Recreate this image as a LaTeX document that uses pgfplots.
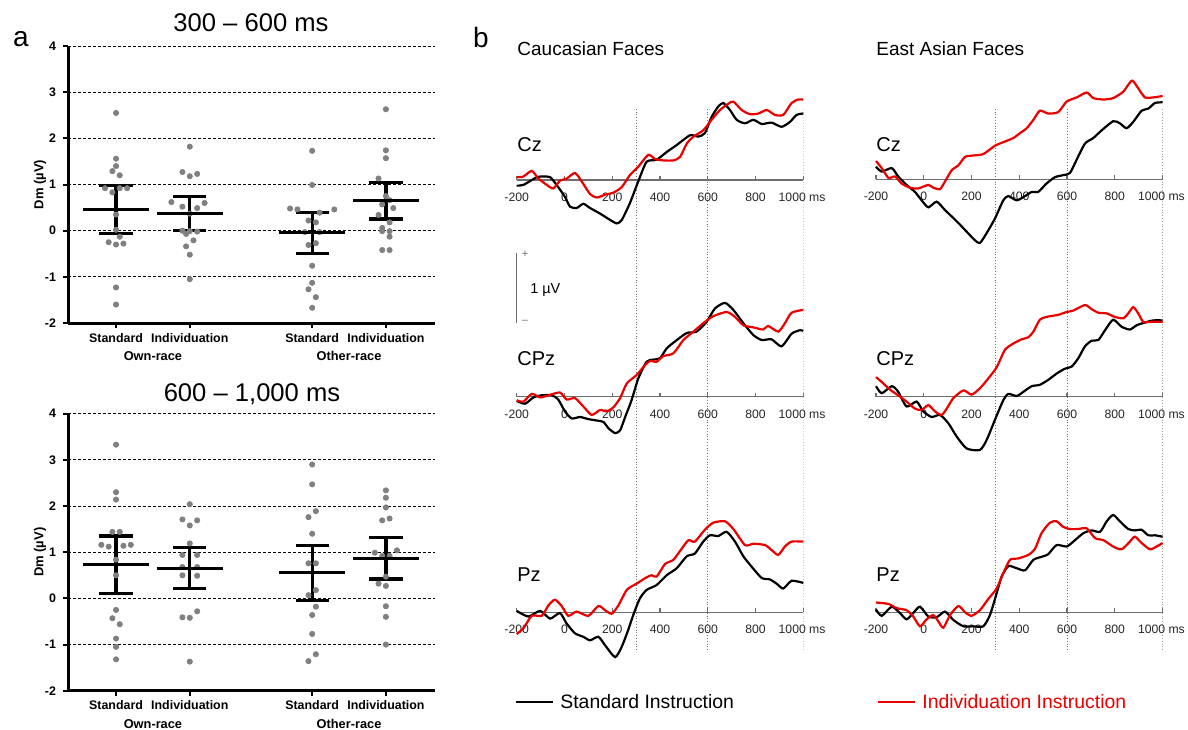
\documentclass[border=0pt]{standalone}
\usepackage{pgfplots}
\pgfplotsset{compat=1.18}
\usepackage{fontspec}
\setmainfont{Liberation Sans}

\definecolor{erpred}{RGB}{235,0,0}
\definecolor{dotgray}{RGB}{128,128,128}
\definecolor{axgray}{RGB}{110,110,110}

\pgfplotsset{
  dm/.style={
    scale only axis, width=183.5pt, height=138.5pt, anchor=south west,
    xmin=0.348, xmax=5.326, ymin=-2, ymax=4,
    axis x line*=bottom, axis y line*=left,
    axis line style={line width=1.5pt},
    xtick={1,2,3.66,4.66},
    xticklabels={Standard,Individuation,Standard,Individuation},
    ytick={-2,-1,0,1,2,3,4},
    tick align=outside, major tick length=2.5pt,
    tick style={line width=1pt,black},
    /pgf/number format/assume math mode=true,
    ticklabel style={font=\fontsize{6.2}{7}\selectfont\bfseries},
    xticklabel style={yshift=1pt},
    ylabel={Dm (µV)},
    ylabel style={font=\fontsize{6.5}{7}\selectfont\bfseries,
      at={(axis description cs:-0.076,0.5)}, anchor=center},
    ymajorgrids, grid style={black, line width=0.5pt, dash pattern=on 1.5pt off 1pt},
    clip=false,
  },
  dots/.style={only marks, mark=*, mark size=1.3pt, color=dotgray,
    mark options={draw=none, fill=dotgray}},
  sem/.style={only marks, black, mark=-, mark size=16.4pt,
    mark options={line width=1.6pt},
    error bars/.cd, y dir=both, y explicit, error mark=|,
    error bar style={line width=1.6pt},
    error mark options={line width=1.6pt, mark size=8.3pt}},
  erp/.style={
    scale only axis, width=143.3pt, height=87.5pt, anchor=south west,
    xmin=-200, xmax=1000, ymin=-1, ymax=1.5,
    axis x line*=middle, axis y line=none, ytick=\empty,
    x axis line style={axgray, line width=0.6pt},
    xtick={-200,0,200,400,600,800,1000},
    xticklabels={-200,0,200,400,600,800,{\makebox[0pt][l]{\hskip-12.3pt 1000 ms}}},
    tick align=inside, major tick length=2pt,
    tick style={axgray, line width=0.6pt},
    xticklabel style={font=\fontsize{6.1}{7}\selectfont, text=black!85, yshift=-3pt},
    clip=false,
  },
  vlines/.style={
    scale only axis, width=143.3pt, height=271pt, anchor=south west,
    xmin=-200, xmax=1000, ymin=0, ymax=1, axis lines=none,
  },
  std/.style={black, line width=1.1pt, smooth, tension=0.4},
  ind/.style={erpred, line width=1.1pt, smooth, tension=0.4},
}

\begin{document}
\begin{tikzpicture}
\useasboundingbox (0,0) rectangle (594pt,-364.5pt);

% dotted time markers, one overlay per column
\begin{axis}[vlines, at={(258.35pt,-325pt)}]
\addplot[ycomb, axgray, line width=0.4pt, densely dotted] coordinates {(300,1) (600,1) (1000,1)};
\end{axis}
\begin{axis}[vlines, at={(438pt,-325pt)}]
\addplot[ycomb, axgray, line width=0.4pt, densely dotted] coordinates {(300,1) (600,1) (1000,1)};
\end{axis}

% ---- Cz, Caucasian
\begin{axis}[erp, at={(258.35pt,-125pt)}]
\addplot[std] coordinates {(-200,-0.08)(-172,-0.07)(-116,0.04)(-88,0.05)(-60,0.04)(-33,-0.07)(2,-0.24)(23,-0.38)(51,-0.40)(79,-0.34)(107,-0.40)(149,-0.48)(191,-0.57)(219,-0.62)(240,-0.57)(274,-0.33)(309,-0.02)(344,0.26)(386,0.29)(428,0.40)(470,0.50)(526,0.64)(560,0.62)(588,0.67)(616,0.90)(644,1.05)(665,1.10)(693,1.00)(721,0.86)(756,0.81)(791,0.86)(826,0.80)(867,0.82)(909,0.76)(944,0.83)(972,0.93)(1000,0.95)};
\addplot[ind] coordinates {(-200,0.04)(-172,0.05)(-137,0.13)(-109,0.02)(-74,-0.07)(-47,-0.12)(-19,-0.01)(9,0.02)(44,0.10)(72,-0.02)(107,-0.20)(135,-0.25)(170,-0.21)(205,-0.18)(240,-0.10)(274,0.07)(309,0.19)(351,0.36)(379,0.30)(414,0.28)(456,0.28)(484,0.33)(512,0.52)(540,0.62)(581,0.71)(616,0.86)(651,1.00)(686,1.09)(707,1.12)(742,1.00)(777,0.94)(812,0.95)(847,1.00)(881,0.93)(916,0.93)(951,1.10)(979,1.15)(1000,1.15)};
\end{axis}

% ---- Cz, East Asian
\begin{axis}[erp, at={(438pt,-124.65pt)}]
\addplot[std] coordinates {(-200,0.18)(-176,0.11)(-134,0.16)(-107,0.04)(-72,-0.08)(-37,-0.18)(-9,-0.30)(19,-0.40)(54,-0.32)(89,-0.44)(138,-0.60)(180,-0.75)(214,-0.87)(235,-0.91)(263,-0.77)(298,-0.56)(333,-0.30)(354,-0.24)(389,-0.30)(424,-0.24)(452,-0.18)(479,-0.18)(514,-0.06)(549,0.03)(584,0.06)(612,0.09)(640,0.28)(675,0.51)(710,0.59)(745,0.70)(793,0.83)(821,0.80)(849,0.73)(877,0.82)(912,0.98)(940,1.01)(968,1.09)(1000,1.10)};
\addplot[ind] coordinates {(-200,0.26)(-176,0.16)(-148,0.02)(-120,0.04)(-93,-0.06)(-58,-0.12)(-23,-0.13)(19,-0.08)(40,-0.12)(68,-0.14)(89,-0.03)(117,0.13)(145,0.20)(173,0.32)(207,0.34)(249,0.36)(298,0.48)(333,0.53)(375,0.59)(403,0.66)(431,0.73)(459,0.85)(486,0.98)(521,0.94)(563,0.96)(598,1.11)(640,1.17)(682,1.24)(710,1.16)(752,1.14)(793,1.16)(835,1.25)(856,1.35)(874,1.41)(898,1.30)(926,1.17)(961,1.17)(1000,1.19)};
\end{axis}

% ---- CPz, Caucasian
\begin{axis}[erp, at={(258.35pt,-233.35pt)}]
\addplot[std] coordinates {(-200,-0.06)(-165,-0.10)(-130,-0.01)(-95,0.02)(-53,0.02)(-26,-0.04)(2,-0.21)(30,-0.31)(65,-0.29)(100,-0.32)(135,-0.34)(163,-0.36)(184,-0.45)(212,-0.52)(233,-0.48)(254,-0.29)(281,-0.05)(309,0.26)(344,0.50)(372,0.53)(400,0.55)(428,0.69)(463,0.79)(512,0.91)(553,0.93)(595,1.07)(630,1.26)(672,1.34)(707,1.24)(749,1.05)(791,0.88)(826,0.81)(867,0.82)(909,0.72)(951,0.90)(986,0.95)(1000,0.94)};
\addplot[ind] coordinates {(-200,-0.05)(-172,-0.07)(-137,0.04)(-102,-0.01)(-67,0.02)(-19,0.06)(9,-0.04)(44,-0.02)(79,-0.14)(114,-0.26)(149,-0.19)(177,-0.21)(205,-0.15)(233,-0.02)(261,0.19)(302,0.31)(337,0.45)(358,0.51)(386,0.50)(414,0.58)(456,0.62)(498,0.81)(540,0.93)(581,1.05)(623,1.15)(679,1.21)(714,1.14)(749,1.02)(791,0.99)(832,0.96)(853,1.01)(895,0.93)(923,1.05)(951,1.20)(1000,1.24)};
\end{axis}

% ---- CPz, East Asian
\begin{axis}[erp, at={(438pt,-233.35pt)}]
\addplot[std] coordinates {(-200,0.15)(-176,0.05)(-134,0.15)(-107,0.07)(-72,-0.14)(-30,-0.07)(-2,-0.21)(33,-0.29)(68,-0.26)(103,-0.38)(138,-0.57)(180,-0.74)(235,-0.76)(263,-0.62)(298,-0.33)(333,-0.05)(354,0.04)(389,0.01)(417,0.07)(452,0.15)(486,0.17)(521,0.24)(556,0.33)(591,0.40)(619,0.43)(647,0.55)(675,0.72)(703,0.80)(731,0.81)(759,0.95)(793,1.10)(828,1.00)(863,0.96)(891,1.02)(926,1.06)(961,1.09)(1000,1.09)};
\addplot[ind] coordinates {(-200,0.28)(-176,0.21)(-141,0.10)(-107,0.02)(-72,-0.07)(-37,-0.17)(-9,-0.19)(19,-0.12)(47,-0.21)(75,-0.26)(96,-0.17)(124,-0.02)(166,0.09)(200,0.03)(235,0.12)(270,0.26)(305,0.42)(340,0.67)(375,0.76)(410,0.82)(438,0.85)(459,0.93)(486,1.10)(514,1.14)(563,1.17)(598,1.21)(626,1.23)(675,1.31)(703,1.25)(731,1.20)(766,1.19)(800,1.14)(835,1.12)(856,1.19)(877,1.28)(898,1.19)(919,1.07)(954,1.07)(1000,1.07)};
\end{axis}

% ---- Pz, Caucasian
\begin{axis}[erp, at={(258.35pt,-341.15pt)}]
\addplot[std] coordinates {(-200,0.02)(-151,-0.06)(-102,0.02)(-60,-0.09)(-19,-0.01)(9,-0.16)(44,-0.30)(79,-0.35)(107,-0.40)(142,-0.35)(170,-0.47)(212,-0.64)(240,-0.49)(267,-0.25)(291,-0.01)(316,0.20)(344,0.32)(386,0.39)(428,0.53)(470,0.63)(512,0.80)(546,0.84)(581,1.01)(609,1.10)(644,1.09)(679,1.15)(714,1.01)(749,0.80)(784,0.65)(826,0.49)(860,0.47)(888,0.41)(916,0.34)(951,0.45)(1000,0.42)};
\addplot[ind] coordinates {(-200,-0.31)(-172,-0.23)(-137,-0.05)(-95,-0.05)(-67,0.10)(-40,0.18)(-12,0.09)(16,-0.05)(51,0.01)(100,-0.05)(142,0.09)(170,0.03)(198,-0.02)(226,0.10)(261,0.32)(302,0.41)(344,0.50)(365,0.53)(386,0.51)(421,0.69)(456,0.75)(491,0.91)(519,1.03)(546,1.01)(588,1.18)(623,1.28)(672,1.30)(707,1.19)(756,0.96)(791,0.98)(840,0.96)(867,0.89)(895,0.82)(923,0.94)(951,1.01)(1000,1.01)};
\end{axis}

% ---- Pz, East Asian
\begin{axis}[erp, at={(438pt,-341.15pt)}]
\addplot[std] coordinates {(-200,0.04)(-176,-0.05)(-134,0.08)(-100,-0.01)(-72,-0.10)(-44,-0.01)(-16,0.08)(19,-0.06)(54,-0.07)(89,0.01)(124,-0.11)(166,-0.20)(207,-0.20)(249,-0.20)(277,-0.04)(305,0.27)(326,0.51)(354,0.66)(389,0.63)(424,0.60)(459,0.75)(500,0.80)(521,0.83)(556,0.96)(598,0.94)(626,1.01)(668,1.13)(703,1.17)(738,1.15)(766,1.30)(793,1.39)(821,1.30)(856,1.19)(884,1.17)(912,1.18)(940,1.10)(968,1.10)(1000,1.08)};
\addplot[ind] coordinates {(-200,0.14)(-148,0.12)(-114,0.06)(-72,0.03)(-44,-0.06)(-16,-0.20)(12,-0.10)(40,-0.04)(61,-0.13)(82,-0.22)(110,-0.04)(145,0.09)(173,0.00)(200,-0.05)(235,0.03)(270,0.19)(305,0.34)(333,0.56)(361,0.75)(396,0.77)(438,0.82)(466,0.91)(493,1.13)(528,1.28)(556,1.30)(584,1.22)(612,1.19)(647,1.19)(682,1.20)(717,1.06)(752,1.03)(793,0.94)(828,0.90)(863,1.01)(884,1.08)(912,0.99)(947,0.90)(975,0.94)(1000,0.99)};
\end{axis}

% ---- panel a, 300-600 ms
\begin{axis}[dm, at={(34pt,-161.5pt)}]
\addplot[dots] coordinates {
 (1,2.55)(1,1.56)(1,1.40)(0.95,1.29)(1.05,1.20)(0.85,0.92)(0.95,0.83)(1.05,0.92)(1.15,0.92)
 (1,0.35)(1,0.02)(1.05,-0.13)(0.90,-0.25)(1,-0.30)(1.10,-0.28)(1,-1.23)(1,-1.60)
 (2,1.82)(1.90,1.27)(2,1.18)(2.10,1.23)(1.75,0.62)(1.90,0.52)(2.10,0.49)(2.20,0.60)
 (2,0.37)(1.90,0.0)(2,-0.01)(1.95,-0.07)(2.10,-0.02)(2.05,-0.21)(1.95,-0.34)(2,-0.52)(2,-1.05)
 (3.66,1.73)(3.66,0.99)(3.36,0.48)(3.46,0.46)(3.96,0.46)(3.76,0.39)(3.61,0.22)(3.71,0.18)
 (3.56,-0.03)(3.76,-0.03)(3.61,-0.31)(3.71,-0.27)(3.66,-0.76)(3.66,-1.13)(3.61,-1.27)(3.71,-1.44)(3.66,-1.67)
 (4.66,2.63)(4.66,1.74)(4.66,1.57)(4.56,1.13)(4.66,0.75)(4.61,0.57)(4.71,0.66)(4.76,0.49)
 (4.56,0.34)(4.71,0.18)(4.61,0.06)(4.61,-0.01)(4.71,-0.01)(4.71,-0.13)(4.61,-0.42)(4.71,-0.42)};
\addplot[sem] coordinates {
 (1,0.465) += (0,0.513) -= (0,0.521)
 (2,0.371) += (0,0.362) -= (0,0.371)
 (3.66,-0.034) += (0,0.434) -= (0,0.466)
 (4.66,0.646) += (0,0.390) -= (0,0.391)};
\node[font=\fontsize{6.4}{7}\selectfont\bfseries, yshift=-16.5pt] at (axis cs:1.5,-2) {Own-race};
\node[font=\fontsize{6.4}{7}\selectfont\bfseries, yshift=-16.5pt] at (axis cs:4.16,-2) {Other-race};
\end{axis}

% ---- panel a, 600-1000 ms
\begin{axis}[dm, at={(34pt,-345.35pt)}]
\addplot[dots] coordinates {
 (1,3.33)(1,2.30)(1,2.14)(0.95,1.44)(1.05,1.44)(0.80,1.16)(0.90,1.12)(1.10,1.14)(1.20,1.16)
 (1,0.84)(1,0.50)(1,-0.25)(0.95,-0.43)(1.05,-0.56)(1,-0.87)(1,-1.05)(1,-1.32)
 (2,2.04)(1.90,1.71)(2.10,1.69)(2,1.58)(2,1.19)(1.90,0.94)(2.10,0.94)(1.90,0.68)(2.10,0.68)
 (1.90,0.50)(2.10,0.49)(2.10,-0.28)(1.90,-0.41)(2,-0.42)(2,-1.37)
 (3.66,2.90)(3.66,2.47)(3.71,1.89)(3.61,1.76)(3.66,1.40)(3.61,0.76)(3.71,0.76)(3.71,0.18)
 (3.61,0.07)(3.71,-0.18)(3.66,-0.36)(3.66,-0.77)(3.71,-1.21)(3.61,-1.36)
 (4.66,2.34)(4.66,2.18)(4.66,1.97)(4.61,1.69)(4.71,1.73)(4.51,0.99)(4.81,1.04)(4.61,0.92)
 (4.71,0.92)(4.66,0.47)(4.56,0.32)(4.66,0.27)(4.66,-0.17)(4.66,-0.40)(4.66,-1.00)};
\addplot[sem] coordinates {
 (1,0.740) += (0,0.610) -= (0,0.634)
 (2,0.654) += (0,0.440) -= (0,0.433)
 (3.66,0.560) += (0,0.590) -= (0,0.600)
 (4.66,0.870) += (0,0.450) -= (0,0.450)};
\node[font=\fontsize{6.4}{7}\selectfont\bfseries, yshift=-16.5pt] at (axis cs:1.5,-2) {Own-race};
\node[font=\fontsize{6.4}{7}\selectfont\bfseries, yshift=-16.5pt] at (axis cs:4.16,-2) {Other-race};
\end{axis}

% ---- texts, in pixel units of the reference
\begin{scope}[x=0.5pt, y=-0.5pt, every node/.style={inner sep=0pt}]
\node[font=\fontsize{14}{14}\selectfont] at (21,39) {a};
\node[font=\fontsize{14}{14}\selectfont] at (481,37) {b};
\node[font=\fontsize{12.8}{13}\selectfont] at (251,23) {300 – 600 ms};
\node[font=\fontsize{12.8}{13}\selectfont] at (252,394) {600 – 1,000 ms};
\node[anchor=west, font=\fontsize{9.5}{10}\selectfont] at (517,49) {Caucasian Faces};
\node[anchor=west, font=\fontsize{9.5}{10}\selectfont] at (876,49) {East Asian Faces};
\foreach \xx in {517,876} {
  \node[anchor=west, font=\fontsize{10}{10}\selectfont] at (\xx,145) {Cz};
  \node[anchor=west, font=\fontsize{10}{10}\selectfont] at (\xx,359) {CPz};
  \node[anchor=west, font=\fontsize{10}{10}\selectfont] at (\xx,575) {Pz};
}
\draw[axgray, line width=0.5pt] (516.7,253) -- (516.7,323);
\node[font=\fontsize{5.5}{6}\selectfont, text=axgray] at (525,254) {+};
\node[font=\fontsize{5.5}{6}\selectfont, text=axgray] at (525,322) {–};
\node[anchor=west, font=\fontsize{7.2}{8}\selectfont] at (530,290) {1 µV};
\draw[black, line width=1pt] (516,702) -- (553,702);
\node[anchor=west, font=\fontsize{9.7}{10}\selectfont] at (560,702) {Standard Instruction};
\draw[erpred, line width=1pt] (878,702) -- (915,702);
\node[anchor=west, font=\fontsize{9.7}{10}\selectfont, text=erpred] at (922,702) {Individuation Instruction};
\end{scope}
\end{tikzpicture}
\end{document}
